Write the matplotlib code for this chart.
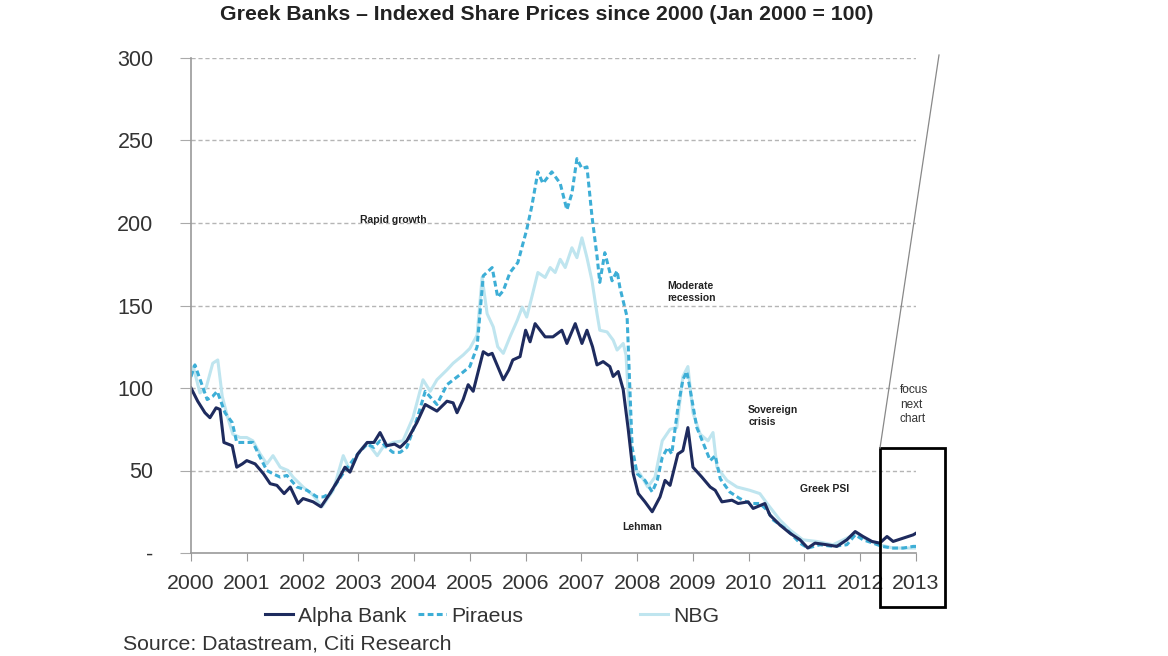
import matplotlib
matplotlib.use('Agg')
import matplotlib.pyplot as plt
from matplotlib.lines import Line2D
from matplotlib.patches import Rectangle
from matplotlib.ticker import FuncFormatter

plt.rcParams['font.family'] = ['Liberation Sans', 'DejaVu Sans']

# Indexed share prices (Jan 2000 = 100)
alpha_x = [2000.00, 2000.12, 2000.25, 2000.34, 2000.45, 2000.52, 2000.59, 2000.74, 2000.82, 2000.92,
           2001.00, 2001.15, 2001.30, 2001.42, 2001.54, 2001.67, 2001.78, 2001.92, 2002.01, 2002.19,
           2002.33, 2002.49, 2002.65, 2002.76, 2002.85, 2002.99, 2003.16, 2003.28, 2003.39, 2003.51,
           2003.65, 2003.75, 2003.87, 2004.05, 2004.20, 2004.41, 2004.59, 2004.70, 2004.77, 2004.88,
           2004.97, 2005.06, 2005.24, 2005.33, 2005.40, 2005.60, 2005.70, 2005.77, 2005.90, 2006.00,
           2006.08, 2006.17, 2006.35, 2006.49, 2006.65, 2006.74, 2006.89, 2007.01, 2007.10, 2007.20,
           2007.28, 2007.39, 2007.51, 2007.57, 2007.66, 2007.75, 2007.84, 2007.93, 2008.02, 2008.14,
           2008.27, 2008.41, 2008.50, 2008.59, 2008.73, 2008.82, 2008.91, 2009.00, 2009.16, 2009.31,
           2009.40, 2009.52, 2009.70, 2009.81, 2009.99, 2010.08, 2010.29, 2010.38, 2010.56, 2010.74,
           2010.92, 2011.06, 2011.19, 2011.40, 2011.58, 2011.76, 2011.91, 2012.05, 2012.21, 2012.35,
           2012.48, 2012.59, 2012.77, 2012.95, 2013.00]
alpha_y = [100, 92, 85, 82, 88, 87, 67, 65, 52, 54,
           56, 54, 48, 42, 41, 36, 40, 30, 33, 31,
           28, 36, 45, 52, 49, 60, 67, 67, 73, 65,
           66, 64, 68, 79, 90, 86, 92, 91, 85, 93,
           102, 98, 122, 120, 121, 105, 111, 117, 119, 135,
           128, 139, 131, 131, 135, 127, 139, 127, 135, 125,
           114, 116, 113, 107, 110, 99, 75, 48, 36, 31,
           25, 34, 44, 41, 60, 62, 76, 52, 46, 40,
           38, 31, 32, 30, 31, 27, 30, 23, 17, 12,
           8, 3, 6, 5, 4, 8, 13, 10, 7, 6,
           10, 7, 9, 11, 12]

piraeus_x = [2000.00, 2000.07, 2000.29, 2000.39, 2000.47, 2000.61, 2000.74, 2000.82, 2001.00, 2001.11,
             2001.24, 2001.36, 2001.47, 2001.60, 2001.72, 2001.90, 2002.08, 2002.26, 2002.37, 2002.49,
             2002.76, 2002.99, 2003.16, 2003.28, 2003.39, 2003.51, 2003.62, 2003.75, 2003.87, 2004.05,
             2004.20, 2004.41, 2004.59, 2004.82, 2005.00, 2005.13, 2005.24, 2005.40, 2005.50, 2005.60,
             2005.72, 2005.86, 2006.02, 2006.11, 2006.22, 2006.31, 2006.47, 2006.62, 2006.74, 2006.83,
             2006.92, 2007.01, 2007.10, 2007.19, 2007.28, 2007.33, 2007.42, 2007.55, 2007.64, 2007.69,
             2007.82, 2007.91, 2008.00, 2008.14, 2008.27, 2008.36, 2008.45, 2008.55, 2008.62, 2008.73,
             2008.82, 2008.89, 2008.95, 2009.07, 2009.18, 2009.31, 2009.40, 2009.49, 2009.66, 2009.84,
             2010.02, 2010.20, 2010.33, 2010.44, 2010.69, 2010.92, 2011.06, 2011.28, 2011.51, 2011.76,
             2011.91, 2012.05, 2012.23, 2012.39, 2012.57, 2012.77, 2012.95, 2013.00]
piraeus_y = [107, 114, 93, 95, 98, 85, 79, 67, 67, 67,
             58, 50, 48, 46, 47, 40, 38, 34, 34, 36,
             50, 60, 66, 64, 68, 64, 61, 61, 64, 81,
             98, 90, 102, 108, 113, 125, 168, 173, 155, 159,
             170, 176, 196, 210, 231, 224, 231, 224, 208, 218,
             239, 233, 234, 204, 180, 164, 182, 165, 171, 161,
             143, 64, 48, 44, 37, 44, 58, 64, 60, 88,
             105, 110, 99, 76, 67, 56, 59, 45, 37, 33,
             30, 30, 26, 20, 14, 6, 3, 5, 4, 5,
             11, 8, 6, 4, 3, 3, 4, 4]

nbg_x = [2000.00, 2000.04, 2000.16, 2000.27, 2000.39, 2000.48, 2000.56, 2000.65, 2000.75, 2000.88,
         2001.00, 2001.11, 2001.24, 2001.36, 2001.47, 2001.60, 2001.74, 2001.83, 2002.01, 2002.19,
         2002.35, 2002.55, 2002.73, 2002.85, 2003.03, 2003.16, 2003.34, 2003.44, 2003.62, 2003.80,
         2003.98, 2004.16, 2004.29, 2004.41, 2004.59, 2004.70, 2004.88, 2005.00, 2005.13, 2005.22,
         2005.31, 2005.42, 2005.50, 2005.60, 2005.72, 2005.85, 2005.94, 2006.02, 2006.11, 2006.22,
         2006.35, 2006.44, 2006.53, 2006.62, 2006.71, 2006.83, 2006.92, 2007.01, 2007.10, 2007.19,
         2007.28, 2007.33, 2007.46, 2007.57, 2007.64, 2007.75, 2007.80, 2007.86, 2007.91, 2008.05,
         2008.19, 2008.32, 2008.45, 2008.59, 2008.71, 2008.82, 2008.91, 2009.00, 2009.13, 2009.27,
         2009.36, 2009.43, 2009.61, 2009.79, 2010.02, 2010.20, 2010.33, 2010.56, 2010.74, 2010.97,
         2011.22, 2011.51, 2011.82, 2011.94, 2012.12, 2012.35, 2012.59, 2012.95, 2013.00]
nbg_y = [107, 113, 97, 100, 115, 117, 95, 83, 72, 70,
         70, 68, 60, 54, 59, 52, 50, 46, 40, 35,
         28, 38, 59, 50, 62, 67, 59, 64, 67, 68,
         82, 105, 98, 105, 111, 115, 120, 124, 132, 167,
         145, 137, 125, 121, 131, 141, 149, 143, 155, 170,
         167, 173, 170, 178, 173, 185, 179, 191, 179, 165,
         145, 135, 134, 129, 123, 127, 120, 85, 52, 48,
         40, 46, 68, 75, 76, 107, 113, 85, 72, 68,
         73, 52, 44, 40, 38, 36, 30, 20, 14, 8,
         7, 5, 10, 12, 8, 5, 3, 3, 3]

year_ticks = list(range(2000, 2014))
value_ticks = [0, 50, 100, 150, 200, 250, 300]

ALPHA_C = '#1e2b5e'
PIRAEUS_C = '#3daed6'
NBG_C = '#bfe5ef'
PIRAEUS_DASH = (1.9, 1.1)

fig = plt.figure(figsize=(11.68, 6.56), dpi=100)
fig.patch.set_facecolor('white')
ax = fig.add_axes([191 / 1168, 103 / 656, 725 / 1168, 495 / 656])

ax.plot(nbg_x, nbg_y, color=NBG_C, linewidth=2.2, label='NBG')
ax.plot(piraeus_x, piraeus_y, color=PIRAEUS_C, linewidth=2.2, dashes=PIRAEUS_DASH, label='Piraeus')
ax.plot(alpha_x, alpha_y, color=ALPHA_C, linewidth=2.2, label='Alpha Bank')

ax.set_xlim(2000, 2013)
ax.set_ylim(0, 300)
ax.set_xticks(year_ticks)
ax.set_yticks(value_ticks)
ax.yaxis.set_major_formatter(FuncFormatter(lambda v, p: '-' if v == 0 else f'{v:.0f}'))

# dashed grid, skip the zero line
for v in value_ticks[1:]:
    ax.axhline(v, color='#b5b5b5', linewidth=1.0, linestyle=(0, (3, 2)), zorder=0)

for s in ['top', 'right']:
    ax.spines[s].set_visible(False)
for s in ['left', 'bottom']:
    ax.spines[s].set_color('#999999')
    ax.spines[s].set_linewidth(1.2)

ax.tick_params(axis='y', direction='out', length=8, color='#aaaaaa', pad=19,
               labelsize=15.5, labelcolor='#333333')
ax.tick_params(axis='x', direction='out', length=6, color='#999999', pad=9,
               labelsize=15.3, labelcolor='#333333')

# period notes
note = dict(fontsize=7.5, fontweight='bold', color='#222222')
ax.text(2003.62, 202, 'Rapid growth', ha='center', va='center', **note)
ax.text(2008.54, 158, 'Moderate\nrecession', ha='left', va='center', linespacing=1.3, **note)
ax.text(2009.99, 83, 'Sovereign\ncrisis', ha='left', va='center', linespacing=1.3, **note)
ax.text(2010.92, 39, 'Greek PSI', ha='left', va='center', **note)
ax.text(2007.73, 16, 'Lehman', ha='left', va='center', **note)
ax.text(2012.71, 90, 'focus\nnext\nchart', ha='left', va='center', linespacing=1.25,
        fontsize=8.5, color='#333333', clip_on=False)

# box around the last months and pointer line
fig.add_artist(Rectangle((880 / 1168, (656 - 607) / 656), 65 / 1168, 159 / 656,
                         transform=fig.transFigure, fill=False, edgecolor='black', linewidth=2))
fig.add_artist(Line2D([880 / 1168, 939 / 1168], [(656 - 448) / 656, (656 - 55) / 656],
                      transform=fig.transFigure, color='#888888', linewidth=0.9))

fig.text(547 / 1168, 1 - 14 / 656, 'Greek Banks \u2013 Indexed Share Prices since 2000 (Jan 2000 = 100)',
         ha='center', va='center', fontsize=15.3, fontweight='bold', color='#222222')

# legend, one entry at a time to keep the spacing of the original
handles = {
    'Alpha Bank': Line2D([], [], color=ALPHA_C, linewidth=2.2),
    'Piraeus': Line2D([], [], color=PIRAEUS_C, linewidth=2.2, dashes=PIRAEUS_DASH),
    'NBG': Line2D([], [], color=NBG_C, linewidth=2.2),
}
starts = {'Alpha Bank': 265, 'Piraeus': 418, 'NBG': 640}
for name, h in handles.items():
    fig.legend([h], [name], loc='center left', bbox_to_anchor=(starts[name] / 1168, 40 / 656),
               frameon=False, fontsize=15.3, handlelength=1.3, handletextpad=0.25,
               borderpad=0, borderaxespad=0, labelcolor='#333333')

fig.text(123 / 1168, 2 / 656, 'Source: Datastream, Citi Research', ha='left', va='bottom',
         fontsize=15.3, color='#333333')

plt.savefig('out.png', dpi=100)
